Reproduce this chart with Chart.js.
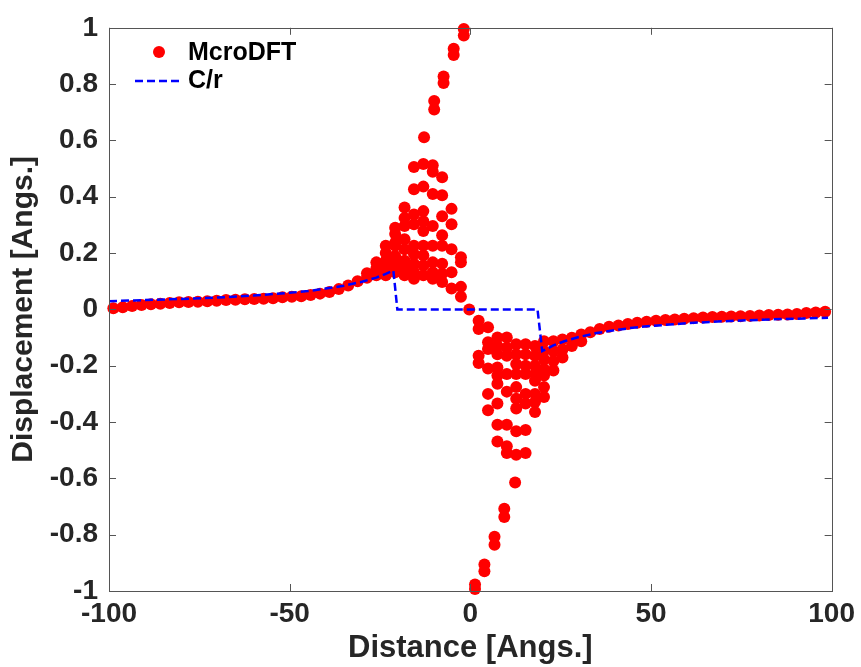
<!DOCTYPE html>
<html>
<head>
<meta charset="utf-8">
<script src="https://cdn.jsdelivr.net/npm/chart.js@4.4.1/dist/chart.umd.min.js"></script>
<style>
  html, body { margin: 0; padding: 0; background: #fff; }
  #wrap { width: 861px; height: 667px; }
</style>
</head>
<body>
<div id="wrap"><canvas id="chart" width="861" height="667"></canvas></div>
<script>
// 変位プロット - McroDFT vs C/r

const xTicks = [-100, -50, 0, 50, 100];
const yTicks = [-1, -0.8, -0.6, -0.4, -0.2, 0, 0.2, 0.4, 0.6, 0.8, 1];

// 左側のすそ (1 点ずつ)
const tailLeftX = [-98.8, -96.2, -93.6, -91.0, -88.4, -85.8, -83.2, -80.6, -78.0, -75.4, -72.8, -70.2, -67.6, -65.0,
  -62.4, -59.8, -57.2, -54.6, -52.0, -49.4, -46.8, -44.2, -41.6, -39.0, -36.4, -33.8, -31.2];
const tailLeftY = [0.004, 0.008, 0.012, 0.016, 0.018, 0.020, 0.023, 0.025, 0.026, 0.027, 0.029, 0.031, 0.033, 0.034,
  0.036, 0.037, 0.038, 0.040, 0.043, 0.045, 0.047, 0.051, 0.056, 0.062, 0.072, 0.085, 0.100];

// 芯の近く (列ごとに複数の点)
const coreLeftX = [-28.6, -26.0, -23.4, -20.8, -18.2, -15.6, -13.0, -10.4, -7.8, -5.2, -2.6];
const coreLeftY = [
  [0.112, 0.128],
  [0.121, 0.145, 0.167],
  [0.121, 0.145, 0.173, 0.200, 0.226],
  [0.132, 0.163, 0.190, 0.226, 0.237, 0.268, 0.290],
  [0.121, 0.144, 0.173, 0.214, 0.249, 0.296, 0.325, 0.362],
  [0.109, 0.132, 0.162, 0.197, 0.226, 0.302, 0.337, 0.427, 0.506],
  [0.121, 0.156, 0.191, 0.226, 0.278, 0.313, 0.349, 0.436, 0.516],
  [0.109, 0.132, 0.167, 0.226, 0.296, 0.410, 0.489, 0.512],
  [0.097, 0.127, 0.162, 0.226, 0.263, 0.331, 0.405, 0.469],
  [0.074, 0.132, 0.214, 0.302, 0.357],
  [0.045, 0.080, 0.167, 0.185]
];

// 中心を通る急な腕
const armLeftX = [-12.8, -10.0, -10.0, -7.4, -7.4, -4.6, -4.6, -1.8, -1.8];
const armLeftY = [0.611, 0.710, 0.740, 0.804, 0.827, 0.903, 0.926, 0.973, 0.996];
const centerX = [-0.3];
const centerY = [0.0];
const armRightX = [1.3, 1.3, 3.9, 3.9, 6.7, 6.7, 9.4, 9.4, 12.4];
const armRightY = [-0.993, -0.977, -0.930, -0.906, -0.836, -0.807, -0.737, -0.708, -0.615];

const coreRightX = [2.3, 4.9, 7.5, 10.1, 12.7, 15.3, 17.9, 20.4, 23.0, 25.5, 28.1, 30.7];
const coreRightY = [
  [-0.040, -0.070, -0.165, -0.190],
  [-0.063, -0.117, -0.141, -0.210, -0.300, -0.358],
  [-0.100, -0.130, -0.159, -0.206, -0.235, -0.264, -0.334, -0.410, -0.469],
  [-0.100, -0.136, -0.165, -0.229, -0.292, -0.410, -0.486, -0.510],
  [-0.124, -0.159, -0.194, -0.229, -0.276, -0.317, -0.352, -0.433, -0.516],
  [-0.124, -0.159, -0.200, -0.229, -0.300, -0.334, -0.428, -0.510],
  [-0.130, -0.165, -0.200, -0.229, -0.253, -0.300, -0.329, -0.364],
  [-0.113, -0.148, -0.177, -0.212, -0.235, -0.276, -0.311],
  [-0.113, -0.148, -0.183, -0.217],
  [-0.107, -0.142, -0.171],
  [-0.101, -0.130],
  [-0.089, -0.113]
];

const tailRightX = [33.2, 35.8, 38.4, 41.0, 43.6, 46.2, 48.8, 51.4, 54.0, 56.6, 59.2, 61.8, 64.4, 67.0,
  69.6, 72.2, 74.8, 77.4, 80.0, 82.6, 85.2, 87.8, 90.4, 93.0, 95.6, 98.2];
const tailRightY = [-0.081, -0.070, -0.062, -0.057, -0.052, -0.047, -0.044, -0.040, -0.038, -0.036, -0.033, -0.031,
  -0.029, -0.027, -0.026, -0.025, -0.024, -0.023, -0.022, -0.020, -0.019, -0.018, -0.016, -0.013, -0.011, -0.008];

// C/r の破線
const fitX = [-100, -90, -80, -70, -60, -50, -45, -40, -35, -30, -26, -23.4, -21.3, -20.2,
  18.6, 19.9, 23, 26, 30, 35, 40, 45, 50, 60, 70, 80, 90, 99];
const fitY = [0.029, 0.033, 0.037, 0.042, 0.049, 0.059, 0.065, 0.074, 0.084, 0.098, 0.113, 0.126, 0.138, 0,
  0, -0.148, -0.128, -0.113, -0.098, -0.084, -0.074, -0.065, -0.059, -0.049, -0.042, -0.037, -0.033, -0.030];

function pairs(xs, ys) {
  return xs.map(function(x, i) { return {x: x, y: ys[i]}; });
}
function columns(xs, yss) {
  var out = [];
  xs.forEach(function(x, i) {
    yss[i].forEach(function(y) { out.push({x: x, y: y}); });
  });
  return out;
}

var dftPts = [].concat(
  pairs(tailLeftX, tailLeftY),
  columns(coreLeftX, coreLeftY),
  pairs(armLeftX, armLeftY),
  pairs(centerX, centerY),
  pairs(armRightX, armRightY),
  columns(coreRightX, coreRightY),
  pairs(tailRightX, tailRightY)
);

const TXT = '#262626';
const FONT = '"Liberation Sans", Arial, Helvetica, sans-serif';

// 内向きの目盛り・枠・凡例
var frame = {
  id: 'frame',
  afterDatasetsDraw: function(chart) {
    var ctx = chart.ctx, a = chart.chartArea;
    var xs = chart.scales.x, ys = chart.scales.y;
    ctx.save();
    ctx.strokeStyle = '#555';
    ctx.lineWidth = 1;
    ctx.beginPath();
    xTicks.forEach(function(v) {
      var p = Math.round(xs.getPixelForValue(v)) + 0.5;
      ctx.moveTo(p, a.bottom); ctx.lineTo(p, a.bottom - 7);
      ctx.moveTo(p, a.top); ctx.lineTo(p, a.top + 7);
    });
    yTicks.forEach(function(v) {
      var p = Math.round(ys.getPixelForValue(v)) + 0.5;
      ctx.moveTo(a.left, p); ctx.lineTo(a.left + 7, p);
      ctx.moveTo(a.right, p); ctx.lineTo(a.right - 7, p);
    });
    ctx.stroke();
    ctx.strokeRect(Math.round(a.left) + 0.5, Math.round(a.top) + 0.5,
                   Math.round(a.right - a.left), Math.round(a.bottom - a.top));

    // 凡例
    ctx.fillStyle = '#ff0000';
    ctx.beginPath();
    ctx.arc(159, 52, 6, 0, Math.PI * 2);
    ctx.fill();
    ctx.strokeStyle = '#0000ff';
    ctx.lineWidth = 2.5;
    ctx.setLineDash([8, 4]);
    ctx.beginPath();
    ctx.moveTo(135, 81); ctx.lineTo(181, 81);
    ctx.stroke();
    ctx.setLineDash([]);
    ctx.fillStyle = '#000';
    ctx.font = 'bold 25px ' + FONT;
    ctx.textAlign = 'left';
    ctx.textBaseline = 'alphabetic';
    ctx.fillText('McroDFT', 188, 60);
    ctx.fillText('C/r', 188, 88);
    ctx.restore();
  }
};

new Chart(document.getElementById('chart').getContext('2d'), {
  type: 'scatter',
  data: {
    datasets: [
      {
        type: 'line',
        label: 'C/r',
        data: pairs(fitX, fitY),
        borderColor: '#0000ff',
        borderWidth: 2.5,
        borderDash: [8, 4],
        pointRadius: 0,
        tension: 0,
        fill: false,
        order: 0
      },
      {
        label: 'McroDFT',
        data: dftPts,
        backgroundColor: '#ff0000',
        borderColor: '#ff0000',
        borderWidth: 0,
        pointRadius: 6,
        clip: 8,
        order: 1
      }
    ]
  },
  options: {
    responsive: false,
    animation: false,
    layout: {padding: {top: 19, right: 25, left: 0, bottom: 0}},
    plugins: {
      legend: {display: false},
      tooltip: {enabled: false}
    },
    scales: {
      x: {
        type: 'linear',
        min: -100,
        max: 100,
        afterBuildTicks: function(s) { s.ticks = xTicks.map(function(v) { return {value: v}; }); },
        afterFit: function(s) { s.height = 76; },
        grid: {display: false, drawTicks: false},
        border: {display: false},
        ticks: {
          color: TXT,
          padding: 6,
          maxRotation: 0,
          font: {family: FONT, size: 28, weight: 'bold'}
        },
        title: {
          display: true,
          text: 'Distance [Angs.]',
          color: TXT,
          padding: {top: 0, bottom: 0},
          font: {family: FONT, size: 31, weight: 'bold'}
        }
      },
      y: {
        type: 'linear',
        min: -1,
        max: 1,
        afterBuildTicks: function(s) { s.ticks = yTicks.map(function(v) { return {value: v}; }); },
        afterFit: function(s) { s.width = 109; },
        grid: {display: false, drawTicks: false},
        border: {display: false},
        ticks: {
          color: TXT,
          padding: 11,
          font: {family: FONT, size: 28, weight: 'bold'},
          callback: function(v) {
            var r = Math.round(v * 10) / 10;
            return r === 0 ? '0' : String(r);
          }
        },
        title: {
          display: true,
          text: 'Displacement [Angs.]',
          color: TXT,
          padding: {top: 6, bottom: 0},
          font: {family: FONT, size: 30, weight: 'bold'}
        }
      }
    }
  },
  plugins: [frame]
});
</script>
</body>
</html>
